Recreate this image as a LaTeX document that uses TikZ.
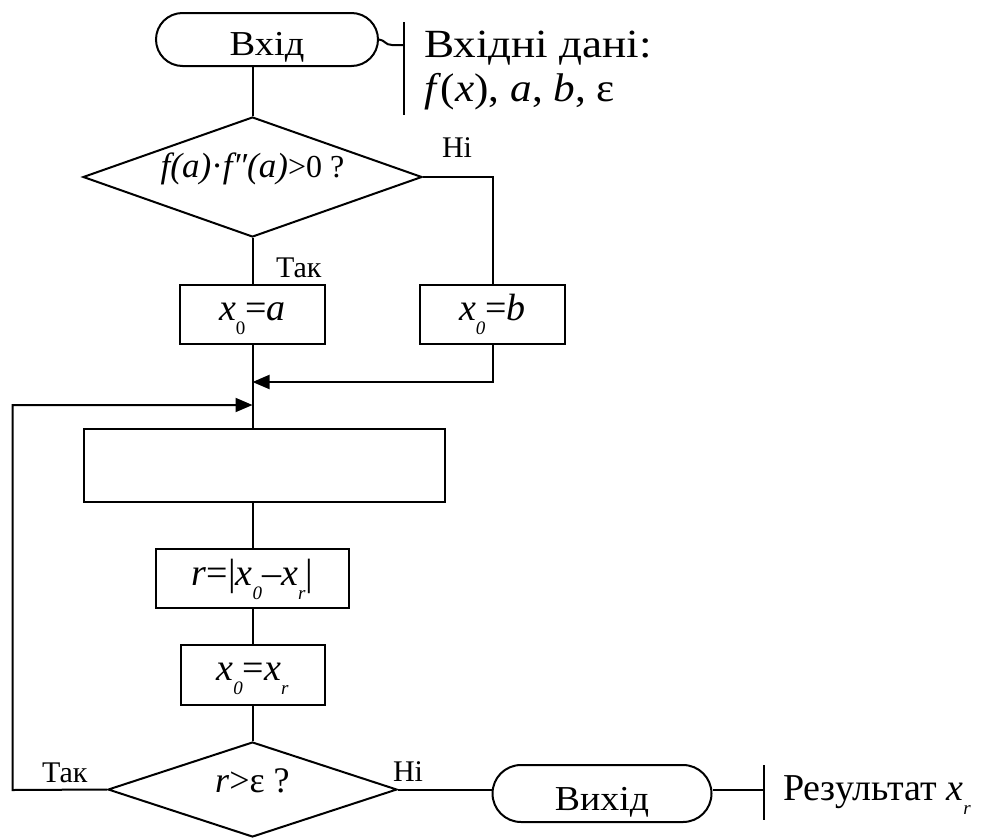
\documentclass[tikz,border=0pt]{standalone}
\usepackage{fontspec}
\usepackage{graphicx}
\setmainfont{Liberation Serif}
\usetikzlibrary{shapes.geometric,shapes.misc,arrows.meta}
\newcommand\lsub[1]{\raisebox{-14pt}{\fontsize{19}{19}\selectfont #1}}
\newcommand\hs[2]{\scalebox{#1}[1]{#2}}
\begin{document}
\begin{tikzpicture}[x=1pt,y=-1pt,line width=2pt,
  term/.style={draw,rounded rectangle,line width=2pt,inner sep=0pt,font=\fontsize{35}{38}\selectfont},
  proc/.style={draw,rectangle,line width=2pt,inner sep=0pt,font=\fontsize{38}{42}\selectfont},
  dec/.style={draw,diamond,line width=2pt,inner sep=0pt,aspect=2.8},
  low/.style={text height=#1,text depth=0pt},
  lbl/.style={inner sep=0pt,anchor=base west,font=\fontsize{30}{32}\selectfont},
  note/.style={inner sep=0pt,anchor=base west},
  arr/.style={-{Triangle[length=17pt,width=14pt]}}]
\useasboundingbox (0,0) rectangle (985,838);
% nodes
\node[term,low=31pt,minimum width=222pt,minimum height=53pt] (start) at (267,39.5) {\hs{1.1}{Вхід}};
\node[dec,low=0pt,minimum width=339pt,minimum height=120pt] (d1) at (252.5,177)
  {{\fontsize{35}{35}\selectfont\itshape f(a)}{\fontsize{35}{35}\selectfont ·}{\fontsize{35}{35}\selectfont\itshape f″(a)}{\fontsize{32}{32}\selectfont >0 ?}};
\node[proc,low=11pt,minimum width=145pt,minimum height=59pt] (ba) at (252.5,314.5) {\textit{x}\lsub{0}=\textit{a}};
\node[proc,low=11pt,minimum width=145pt,minimum height=59pt] (bb) at (492.5,314.5) {\textit{x}\lsub{\textit{0}}=\textit{b}};
\node[proc,minimum width=361pt,minimum height=73pt] (big) at (264.5,465.5) {};
\node[proc,low=13pt,minimum width=193pt,minimum height=59pt] (br) at (252.5,578.5) {\textit{r}=|\textit{x}\lsub{\textit{0}}–\textit{x}\lsub{\textit{r}}|};
\node[proc,low=10pt,minimum width=144pt,minimum height=60pt] (bx) at (252.5,675) {\textit{x}\lsub{\textit{0}}=\textit{x}\lsub{\textit{r}}};
\node[dec,low=5pt,minimum width=289pt,minimum height=95pt,font=\fontsize{36}{38}\selectfont] (d2) at (252.5,789.5) {\textit{r}>ε ?};
\node[term,low=33pt,minimum width=219pt,minimum height=57pt] (fin) at (602,793.5) {\hs{1.08}{Вихід}};
% labels
\node[lbl] (no1) at (441,157) {Ні};
\node[lbl] (yes1) at (275,277) {Так};
\node[lbl] (yes2) at (41,782) {Так};
\node[lbl] (no2) at (392,781) {Ні};
% input annotation
\coordinate (b1t) at (404,22);
\coordinate (b1b) at (404,115);
\coordinate (b1m) at (404,45);
\draw (b1t) -- (b1b);
\draw (start.east) .. controls (385,40) and (385,45) .. (392,45) -- (b1m);
\node[note,font=\fontsize{40}{40}\selectfont] (in1) at (423,57) {\hs{1.13}{Вхідні дані:}};
\node[note,font=\fontsize{40}{40}\selectfont] (in2) at (423,101) {\hs{1.08}{\textit{f}(\textit{x}), \textit{a}, \textit{b}, ε}};
% output annotation
\coordinate (b2t) at (764,765);
\coordinate (b2b) at (764,820);
\coordinate (b2m) at (764,790);
\draw (b2t) -- (b2b);
\draw (fin.east |- b2m) -- (b2m);
\node[note,font=\fontsize{38}{38}\selectfont] (res) at (782,800) {Результат \textit{x}\lsub{\textit{r}}};
% connectors
\coordinate (m1) at (252.5,382);
\coordinate (m2) at (252.5,405);
\coordinate (lp) at (12.5,790);
\draw (d1.north |- start.south) -- (d1.north);
\draw (d1.south) -- (ba.north);
\draw (d1.east) -| (bb.north);
\draw (ba.south) -- (ba.south |- big.north);
\draw[arr] (bb.south) |- (m1);
\draw (ba.south |- big.south) -- (br.north);
\draw (br.south) -- (bx.north);
\draw (bx.south) -- (d2.north);
\draw[arr] (d2.west) -- (lp) |- (m2);
\draw (d2.east) -- (d2.east -| fin.west);
\end{tikzpicture}
\end{document}
